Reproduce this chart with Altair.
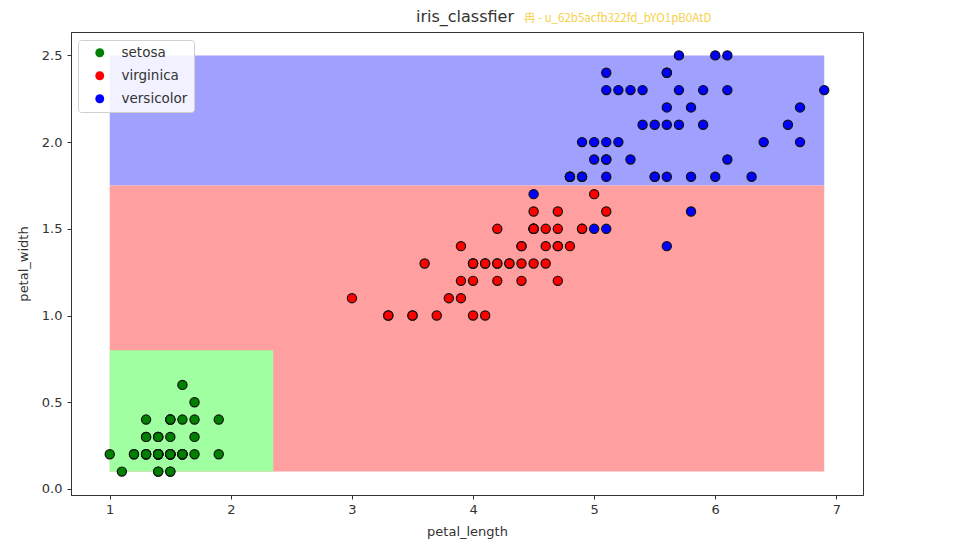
import altair as alt
import pandas as pd

setosa_length = [1.4, 1.4, 1.3, 1.5, 1.4, 1.7, 1.4, 1.5, 1.4, 1.5,
                 1.5, 1.6, 1.4, 1.1, 1.2, 1.5, 1.3, 1.4, 1.7, 1.5,
                 1.7, 1.5, 1.0, 1.7, 1.9, 1.6, 1.6, 1.5, 1.4, 1.6,
                 1.6, 1.5, 1.5, 1.4, 1.5, 1.2, 1.3, 1.4, 1.3, 1.5,
                 1.3, 1.3, 1.3, 1.6, 1.9, 1.4, 1.6, 1.4, 1.5, 1.4]
setosa_width = [0.2, 0.2, 0.2, 0.2, 0.2, 0.4, 0.3, 0.2, 0.2, 0.1,
                0.2, 0.2, 0.1, 0.1, 0.2, 0.4, 0.4, 0.3, 0.3, 0.3,
                0.2, 0.4, 0.2, 0.5, 0.2, 0.2, 0.4, 0.2, 0.2, 0.2,
                0.2, 0.4, 0.1, 0.2, 0.2, 0.2, 0.2, 0.1, 0.2, 0.2,
                0.3, 0.3, 0.2, 0.6, 0.4, 0.3, 0.2, 0.2, 0.2, 0.2]

red_length = [4.7, 4.5, 4.9, 4.0, 4.6, 4.5, 4.7, 3.3, 4.6, 3.9,
              3.5, 4.2, 4.0, 4.7, 3.6, 4.4, 4.5, 4.1, 4.5, 3.9,
              4.8, 4.0, 4.9, 4.7, 4.3, 4.4, 4.8, 5.0, 4.5, 3.5,
              3.8, 3.7, 3.9, 5.1, 4.5, 4.5, 4.7, 4.4, 4.1, 4.0,
              4.4, 4.6, 4.0, 3.3, 4.2, 4.2, 4.2, 4.3, 3.0, 4.1]
red_width = [1.4, 1.5, 1.5, 1.3, 1.5, 1.3, 1.6, 1.0, 1.3, 1.4,
             1.0, 1.5, 1.0, 1.4, 1.3, 1.4, 1.5, 1.0, 1.5, 1.1,
             1.8, 1.3, 1.5, 1.2, 1.3, 1.4, 1.4, 1.7, 1.5, 1.0,
             1.1, 1.0, 1.2, 1.6, 1.5, 1.6, 1.5, 1.3, 1.3, 1.3,
             1.2, 1.4, 1.2, 1.0, 1.3, 1.2, 1.3, 1.3, 1.1, 1.3]

blue_length = [6.0, 5.1, 5.9, 5.6, 5.8, 6.6, 4.5, 6.3, 5.8, 6.1,
               5.1, 5.3, 5.5, 5.0, 5.1, 5.3, 5.5, 6.7, 6.9, 5.0,
               5.7, 4.9, 6.7, 4.9, 5.7, 6.0, 4.8, 4.9, 5.6, 5.8,
               6.1, 6.4, 5.6, 5.1, 5.6, 6.1, 5.6, 5.5, 4.8, 5.4,
               5.6, 5.1, 5.1, 5.9, 5.7, 5.2, 5.0, 5.2, 5.4, 5.1]
blue_width = [2.5, 1.9, 2.1, 1.8, 2.2, 2.1, 1.7, 1.8, 1.8, 2.5,
              2.0, 1.9, 2.1, 2.0, 2.4, 2.3, 1.8, 2.2, 2.3, 1.5,
              2.3, 2.0, 2.0, 1.8, 2.1, 1.8, 1.8, 1.8, 2.1, 1.6,
              1.9, 2.0, 2.2, 1.5, 1.4, 2.3, 2.4, 1.8, 1.8, 2.1,
              2.4, 2.3, 1.9, 2.3, 2.5, 2.3, 1.9, 2.0, 2.3, 1.8]

legend_labels = ["setosa", "virginica", "versicolor"]
legend_colors = ["#008000", "#ff0000", "#0000ff"]

# decision regions
region_x0 = [1.0, 1.0, 1.0]
region_x1 = [6.9, 6.9, 2.35]
region_y0 = [1.75, 0.1, 0.1]
region_y1 = [2.5, 1.75, 0.8]
region_fill = ["#a0a0ff", "#ff9f9f", "#a0ffa0"]

x_ticks = [1, 2, 3, 4, 5, 6, 7]
y_ticks = [0.0, 0.5, 1.0, 1.5, 2.0, 2.5]

title_text = "iris_classfier"
watermark_text = "冉 - u_62b5acfb322fd_bYO1pB0AtD"

# ---- tables ----
points = pd.DataFrame({
    "petal_length": setosa_length + red_length + blue_length,
    "petal_width": setosa_width + red_width + blue_width,
    "species": [legend_labels[0]] * len(setosa_length)
    + [legend_labels[1]] * len(red_length)
    + [legend_labels[2]] * len(blue_length),
})
regions = pd.DataFrame({"x0": region_x0, "x1": region_x1,
                        "y0": region_y0, "y1": region_y1, "fill": region_fill})

xscale = alt.Scale(domain=[0.68, 7.22], nice=False, zero=False)
yscale = alt.Scale(domain=[-0.035, 2.635], nice=False, zero=False)

xaxis = alt.Axis(values=x_ticks, format="d", title="petal_length", grid=False,
                 labelPadding=4, titlePadding=9)
yaxis = alt.Axis(values=y_ticks, format=".1f", title="petal_width", grid=False,
                 labelPadding=5, titlePadding=11)

rects = alt.Chart(regions).mark_rect(opacity=1).encode(
    x=alt.X("x0:Q", scale=xscale, axis=xaxis),
    x2="x1:Q",
    y=alt.Y("y0:Q", scale=yscale, axis=yaxis),
    y2="y1:Q",
    color=alt.Color("fill:N", scale=None, legend=None),
)

dots = alt.Chart(points).mark_point(
    shape="circle", filled=True, size=85, stroke="#111111", strokeWidth=1.2, opacity=1
).encode(
    x=alt.X("petal_length:Q", scale=xscale, axis=xaxis),
    y=alt.Y("petal_width:Q", scale=yscale, axis=yaxis),
    fill=alt.Fill(
        "species:N",
        scale=alt.Scale(domain=legend_labels, range=legend_colors),
        legend=alt.Legend(
            title=None, orient="none", legendX=7, legendY=8,
            symbolType="circle", symbolSize=80, symbolStrokeWidth=0,
            symbolOffset=9, labelOffset=15, labelFontSize=13.5,
            labelFont="DejaVu Sans", labelColor="#333333",
            rowPadding=8, padding=6, fillColor="rgba(255,255,255,0.85)",
            strokeColor="#d0d0d0", cornerRadius=3,
        ),
    ),
)

# watermark of the source video, kept clear of the title
wm = alt.Chart(pd.DataFrame({"t": [watermark_text]})).mark_text(
    font="Noto Sans CJK SC", fontSize=11.5, color="#f5d04a",
    baseline="alphabetic", align="left",
).encode(text="t:N", x=alt.value(453), y=alt.value(-10))

ttl = alt.Chart(pd.DataFrame({"t": [title_text]})).mark_text(
    font="DejaVu Sans", fontSize=16, color="#333333",
    baseline="alphabetic", align="center",
).encode(text="t:N", x=alt.value(394), y=alt.value(-10))

chart = alt.layer(rects, dots, wm, ttl).properties(
    width=792, height=463,
    padding={"left": 63, "top": 24, "right": 80, "bottom": 50},
    autosize=alt.AutoSizeParams(type="none"),
).configure_view(stroke="#333333", strokeWidth=1).configure_axis(
    labelFont="DejaVu Sans", labelFontSize=13, labelColor="#333333",
    titleFont="DejaVu Sans", titleFontSize=13, titleFontWeight="normal",
    titleColor="#333333", tickSize=4, tickColor="#333333",
    domainColor="#333333", domainWidth=1,
)

chart.save("out.html", embed_options={"renderer": "svg", "actions": False})
